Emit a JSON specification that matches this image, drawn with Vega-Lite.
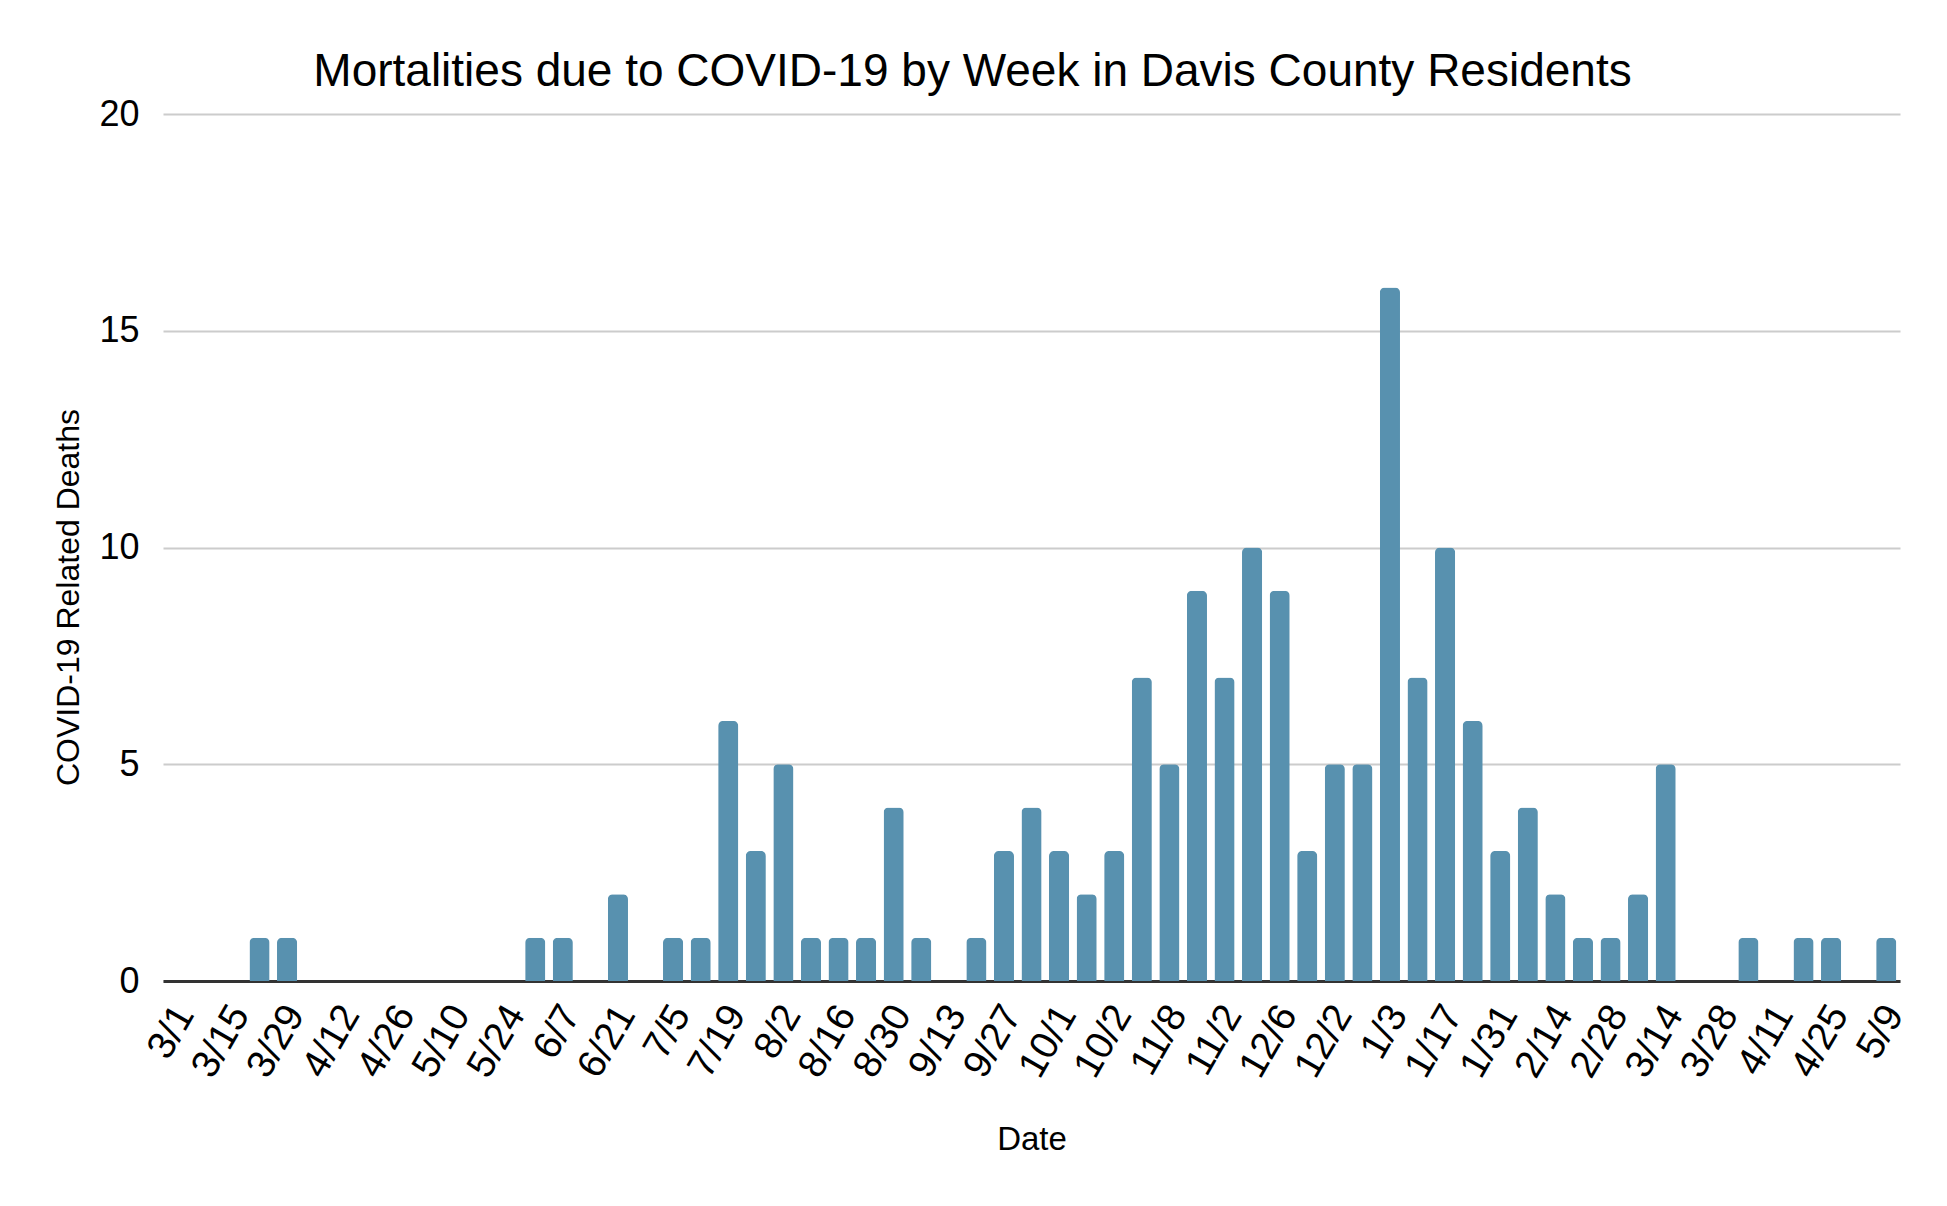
{
  "$schema": "https://vega.github.io/schema/vega-lite/v6.json",
  "width": 1737,
  "height": 867,
  "autosize": {"type": "none"},
  "padding": {"left": 163, "top": 114, "right": 47, "bottom": 225},
  "background": "white",
  "title": {
    "text": "Mortalities due to COVID-19 by Week in Davis County Residents",
    "font": "Liberation Sans",
    "fontSize": 46,
    "fontWeight": "normal",
    "color": "#000000",
    "anchor": "middle",
    "dx": -59,
    "offset": 0
  },
  "data": {
    "values": [
      {"week": "3/1", "deaths": 0},
      {"week": "3/8", "deaths": 0},
      {"week": "3/15", "deaths": 0},
      {"week": "3/22", "deaths": 1},
      {"week": "3/29", "deaths": 1},
      {"week": "4/5", "deaths": 0},
      {"week": "4/12", "deaths": 0},
      {"week": "4/19", "deaths": 0},
      {"week": "4/26", "deaths": 0},
      {"week": "5/3", "deaths": 0},
      {"week": "5/10", "deaths": 0},
      {"week": "5/17", "deaths": 0},
      {"week": "5/24", "deaths": 0},
      {"week": "5/31", "deaths": 1},
      {"week": "6/7", "deaths": 1},
      {"week": "6/14", "deaths": 0},
      {"week": "6/21", "deaths": 2},
      {"week": "6/28", "deaths": 0},
      {"week": "7/5", "deaths": 1},
      {"week": "7/12", "deaths": 1},
      {"week": "7/19", "deaths": 6},
      {"week": "7/26", "deaths": 3},
      {"week": "8/2", "deaths": 5},
      {"week": "8/9", "deaths": 1},
      {"week": "8/16", "deaths": 1},
      {"week": "8/23", "deaths": 1},
      {"week": "8/30", "deaths": 4},
      {"week": "9/6", "deaths": 1},
      {"week": "9/13", "deaths": 0},
      {"week": "9/20", "deaths": 1},
      {"week": "9/27", "deaths": 3},
      {"week": "10/4", "deaths": 4},
      {"week": "10/11", "deaths": 3},
      {"week": "10/18", "deaths": 2},
      {"week": "10/25", "deaths": 3},
      {"week": "11/1", "deaths": 7},
      {"week": "11/8", "deaths": 5},
      {"week": "11/15", "deaths": 9},
      {"week": "11/22", "deaths": 7},
      {"week": "11/29", "deaths": 10},
      {"week": "12/6", "deaths": 9},
      {"week": "12/13", "deaths": 3},
      {"week": "12/20", "deaths": 5},
      {"week": "12/27", "deaths": 5},
      {"week": "1/3", "deaths": 16},
      {"week": "1/10", "deaths": 7},
      {"week": "1/17", "deaths": 10},
      {"week": "1/24", "deaths": 6},
      {"week": "1/31", "deaths": 3},
      {"week": "2/7", "deaths": 4},
      {"week": "2/14", "deaths": 2},
      {"week": "2/21", "deaths": 1},
      {"week": "2/28", "deaths": 1},
      {"week": "3/7", "deaths": 2},
      {"week": "3/14", "deaths": 5},
      {"week": "3/21", "deaths": 0},
      {"week": "3/28", "deaths": 0},
      {"week": "4/4", "deaths": 1},
      {"week": "4/11", "deaths": 0},
      {"week": "4/18", "deaths": 1},
      {"week": "4/25", "deaths": 1},
      {"week": "5/2", "deaths": 0},
      {"week": "5/9", "deaths": 1}
    ]
  },
  "mark": {
    "type": "bar",
    "color": "#5891af",
    "cornerRadiusTopLeft": 5,
    "cornerRadiusTopRight": 5
  },
  "encoding": {
    "x": {
      "field": "week",
      "type": "ordinal",
      "sort": null,
      "scale": {"paddingInner": 0.27, "paddingOuter": 0.135},
      "axis": {
        "title": "Date",
        "titleFont": "Liberation Sans",
        "titleFontSize": 33,
        "titleFontWeight": "normal",
        "titleColor": "#000000",
        "titleY": 158,
        "titleBaseline": "middle",
        "values": ["3/1", "3/15", "3/29", "4/12", "4/26", "5/10", "5/24", "6/7", "6/21", "7/5", "7/19", "8/2", "8/16", "8/30", "9/13", "9/27", "10/11", "10/25", "11/8", "11/22", "12/6", "12/20", "1/3", "1/17", "1/31", "2/14", "2/28", "3/14", "3/28", "4/11", "4/25", "5/9"],
        "labelExpr": "substring(datum.label, 0, 4)",
        "labelAngle": -60,
        "labelFont": "Liberation Sans",
        "labelFontSize": 39,
        "labelColor": "#000000",
        "labelPadding": 27,
        "labelOffset": 8,
        "labelOverlap": false,
        "ticks": false,
        "domainColor": "#333333",
        "domainWidth": 3,
        "grid": false
      }
    },
    "y": {
      "field": "deaths",
      "type": "quantitative",
      "scale": {"domain": [0, 20], "nice": false},
      "axis": {
        "title": "COVID-19 Related Deaths",
        "titleFont": "Liberation Sans",
        "titleFontSize": 32,
        "titleFontWeight": "normal",
        "titleColor": "#000000",
        "titleX": -95,
        "titleY": 483,
        "titleAngle": -90,
        "titleAlign": "center",
        "titleBaseline": "middle",
        "values": [0, 5, 10, 15, 20],
        "labelFont": "Liberation Sans",
        "labelFontSize": 36,
        "labelColor": "#000000",
        "labelPadding": 24,
        "ticks": false,
        "domain": false,
        "grid": true,
        "gridColor": "#cccccc",
        "gridWidth": 2
      }
    }
  },
  "config": {
    "view": {"stroke": null}
  }
}
